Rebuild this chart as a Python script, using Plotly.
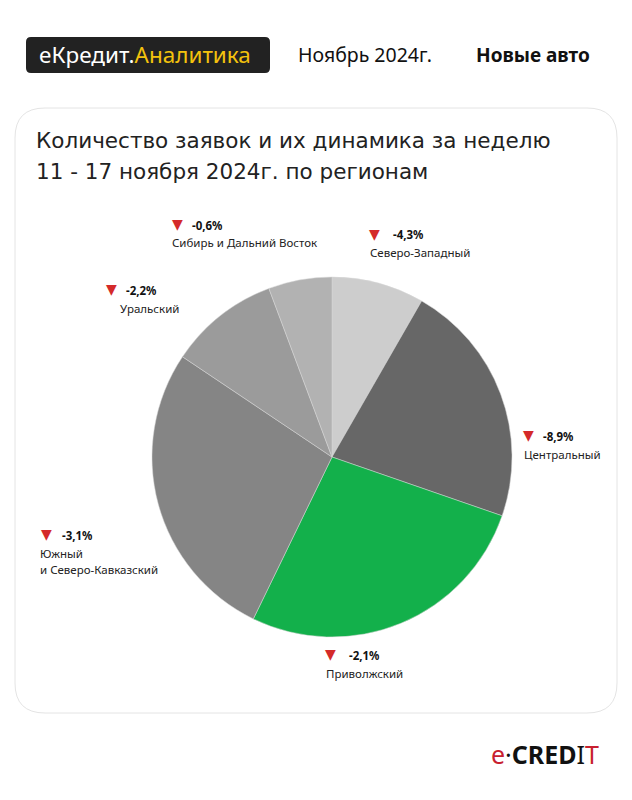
import plotly.graph_objects as go

regions = ["Северо-Западный", "Центральный", "Приволжский",
           "Южный<br>и Северо-Кавказский", "Уральский", "Сибирь и Дальний Восток"]
shares = [8.3, 22.0, 26.9, 27.2, 9.9, 5.7]
changes = ["-4,3%", "-8,9%", "-2,1%", "-3,1%", "-2,2%", "-0,6%"]
colors = ["#cdcdcd", "#676767", "#13b04b", "#858585", "#9b9b9b", "#b2b2b2"]

W, H = 632, 800
def px(x): return x / W
def py(y): return 1 - y / H

cx, cy, r = 332, 457, 180

fig = go.Figure()
fig.add_trace(go.Pie(
    values=shares, labels=[s.replace("<br>", " ") for s in regions],
    marker=dict(colors=colors, line=dict(color="#d6d6d6", width=0.5)),
    sort=False, direction="clockwise", rotation=0,
    textinfo="none", hoverinfo="label+percent", showlegend=False,
    domain=dict(x=[px(cx - r), px(cx + r)], y=[py(cy + r), py(cy - r)]),
))

shapes = []
def rounded_rect(x0, y0, x1, y1, rad, fill, line_color, lw):
    p = (f"M {px(x0+rad)},{py(y0)} L {px(x1-rad)},{py(y0)} "
         f"Q {px(x1)},{py(y0)} {px(x1)},{py(y0+rad)} "
         f"L {px(x1)},{py(y1-rad)} Q {px(x1)},{py(y1)} {px(x1-rad)},{py(y1)} "
         f"L {px(x0+rad)},{py(y1)} Q {px(x0)},{py(y1)} {px(x0)},{py(y1-rad)} "
         f"L {px(x0)},{py(y0+rad)} Q {px(x0)},{py(y0)} {px(x0+rad)},{py(y0)} Z")
    return dict(type="path", xref="paper", yref="paper", path=p,
                fillcolor=fill, line=dict(color=line_color, width=lw), layer="below")

shapes.append(rounded_rect(15, 108, 617, 713, 30, "white", "#e4e4e4", 1))
shapes.append(rounded_rect(26, 37, 270, 73, 5, "#222222", "#222222", 0))

FONT = "Noto Sans"
ann = []
def text(x, y, t, size, color="#111", anchor="left", family=FONT):
    ann.append(dict(x=px(x), y=py(y), xref="paper", yref="paper", text=t,
                    showarrow=False, xanchor=anchor, yanchor="middle",
                    font=dict(family=family, size=size, color=color), align="left"))

# header
text(37, 55, "<span style='color:#ffffff'>еКредит.</span><span style='color:#f4c20d'>Аналитика</span>", 22.5)
text(296, 55, "Ноябрь 2024г.", 19.5, "#111")
text(474, 55, "<b>Новые авто</b>", 19, "#111")

# title
text(34, 140, "Количество заявок и их динамика за неделю", 21.5, "#222", family="DejaVu Sans")
text(34, 172, "11 - 17 ноября 2024г. по регионам", 21.5, "#222", family="DejaVu Sans")

# labels: (triangle center x, y of first line, value x, name x)
label_pos = [(374, 235, 391, 368), (528, 436, 541, 522), (330, 655, 347, 324),
             (46, 535, 60, 38), (111, 290, 124, 118), (177, 225, 190, 170)]
for (tx, ty, vx, nx), name, ch in zip(label_pos, regions, changes):
    text(tx, ty - 1, "▼", 14, "#d42a2a", anchor="center", family="DejaVu Sans")
    text(vx, ty, "<b>" + ch + "</b>", 11.5, "#111")
    lines = name.split("<br>")
    for i, ln in enumerate(lines):
        text(nx, ty + 18 + 16 * i, ln, 11.5, "#222")

# logo
text(489, 754, "<span style='color:#c8202f'>e</span><span style='color:#111'>·</span>"
     "<b style='color:#111'>CRED</b><span style='color:#111'>I</span><span style='color:#c8202f'>T</span>",
     25, "#111")

fig.update_layout(
    width=W, height=H, margin=dict(l=0, r=0, t=0, b=0),
    paper_bgcolor="white", plot_bgcolor="white",
    shapes=shapes, annotations=ann,
)
fig.write_html("out.html")
